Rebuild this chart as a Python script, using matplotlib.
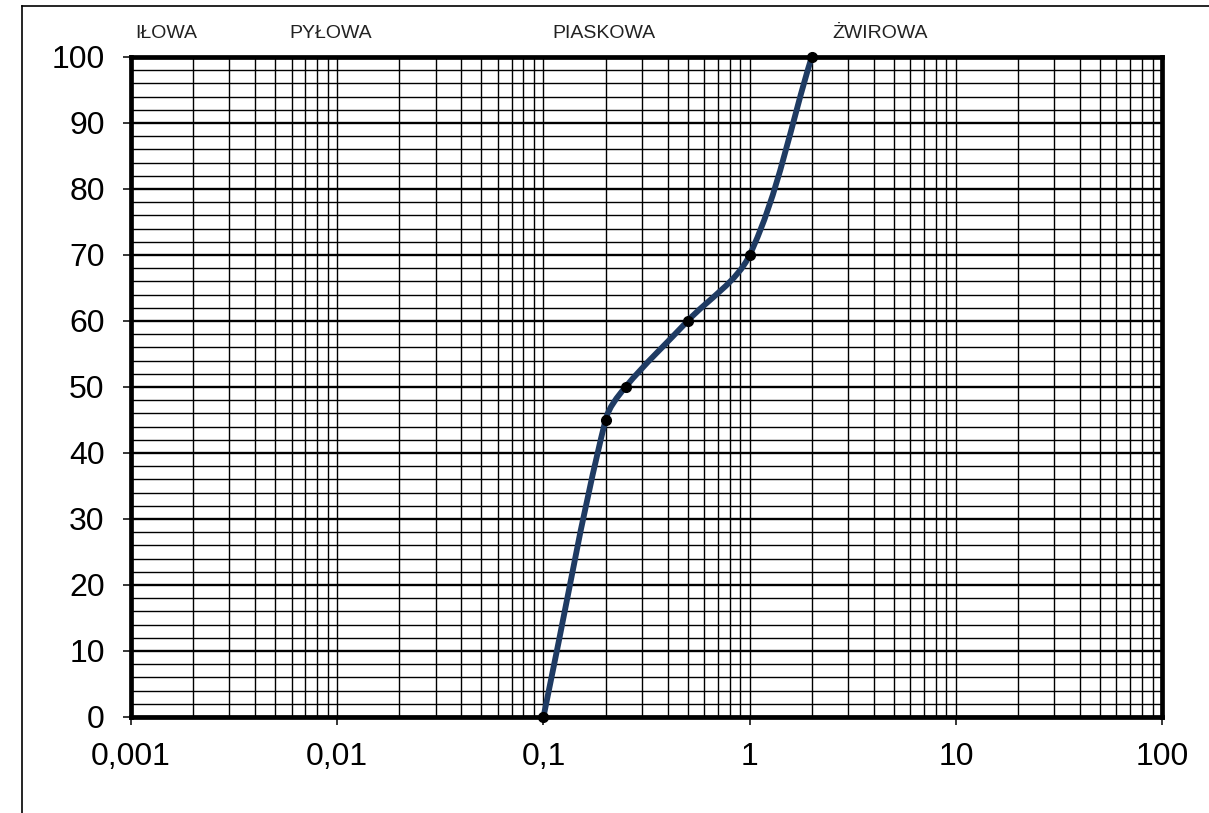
import matplotlib
matplotlib.use("Agg")
import matplotlib.pyplot as plt
import numpy as np
from matplotlib.lines import Line2D
from matplotlib.patches import PathPatch
from matplotlib.path import Path
from matplotlib.ticker import FixedLocator, LogLocator, NullFormatter

plt.rcParams["font.family"] = ["Liberation Sans", "DejaVu Sans"]

# grain size [mm] vs. percent passing
diameter = [0.1, 0.2, 0.25, 0.5, 1.0, 2.0]
passing = [0, 45, 50, 60, 70, 100]

fractions = ["IŁOWA", "PYŁOWA", "PIASKOWA", "ŻWIROWA"]
fraction_pos = [0.004, 0.154, 0.409, 0.680]   # axes fraction, left edge

x_ticks = [0.001, 0.01, 0.1, 1, 10, 100]
x_labels = ["0,001", "0,01", "0,1", "1", "10", "100"]

LINE = "#1f3b63"


def smooth_path(ax, xs, ys, t=1 / 3):
    """Spreadsheet-like smoothed line: bezier segments whose control points
    are scaled by neighbouring chord lengths (measured on screen)."""
    pts = ax.transData.transform(np.column_stack([xs, ys]))
    n = len(pts)
    d = np.hypot(*np.diff(pts, axis=0).T)
    verts = [pts[0]]
    codes = [Path.MOVETO]
    for i in range(n - 1):
        i0, i2, i3 = max(i - 1, 0), i + 1, min(i + 2, n - 1)
        dp = d[i - 1] if i > 0 else 0.0
        dn = d[i + 1] if i + 1 < n - 1 else 0.0
        c1 = pts[i] + t * (pts[i2] - pts[i0]) * d[i] / (dp + d[i])
        c2 = pts[i2] - t * (pts[i3] - pts[i]) * d[i] / (d[i] + dn)
        verts += [c1, c2, pts[i2]]
        codes += [Path.CURVE4] * 3
    # back to data coordinates (log scale keeps the bezier straight on screen)
    data_verts = ax.transData.inverted().transform(np.array(verts))
    return Path(data_verts, codes)


fig = plt.figure(figsize=(12.09, 8.13), dpi=100)
ax = fig.add_axes([0.1084, 0.1181, 0.8528, 0.8118])

ax.set_xscale("log")
ax.set_xlim(0.001, 100)
ax.set_ylim(0, 100)

ax.xaxis.set_major_locator(FixedLocator(x_ticks))
ax.set_xticklabels(x_labels)
ax.xaxis.set_minor_locator(LogLocator(base=10, subs=np.arange(2, 10)))
ax.xaxis.set_minor_formatter(NullFormatter())
ax.set_yticks(np.arange(0, 101, 10))
ax.set_yticks(np.arange(0, 101, 2), minor=True)

ax.grid(True, which="major", axis="y", color="black", linewidth=1.7)
ax.grid(True, which="minor", axis="y", color="black", linewidth=1.0)
ax.grid(True, which="both", axis="x", color="black", linewidth=1.0)
ax.set_axisbelow(True)

ax.tick_params(axis="both", which="major", direction="out", length=6, width=1.1,
               labelsize=23, colors="black")
ax.tick_params(axis="y", which="major", pad=13)
ax.tick_params(axis="x", which="major", pad=12)
ax.tick_params(which="minor", length=0)
for sp in ax.spines.values():
    sp.set_linewidth(3.4)

ax.add_patch(PathPatch(smooth_path(ax, diameter, passing), facecolor="none",
                       edgecolor=LINE, linewidth=4.2, zorder=3, capstyle="round"))
ax.plot(diameter, passing, linestyle="none", marker="o", markersize=7,
        color="black", zorder=4, clip_on=False)

for name, pos in zip(fractions, fraction_pos):
    ax.text(pos, 1.036, name, transform=ax.transAxes, ha="left", va="center",
            fontsize=14, color="#222222")

# outer frame of the chart area (only top and left visible)
fig.add_artist(Line2D([22 / 1209, 1.0], [1 - 6 / 813] * 2, color="black", linewidth=1.2))
fig.add_artist(Line2D([22 / 1209] * 2, [0, 1 - 6 / 813], color="black", linewidth=1.2))

fig.savefig("out.png", dpi=100)
